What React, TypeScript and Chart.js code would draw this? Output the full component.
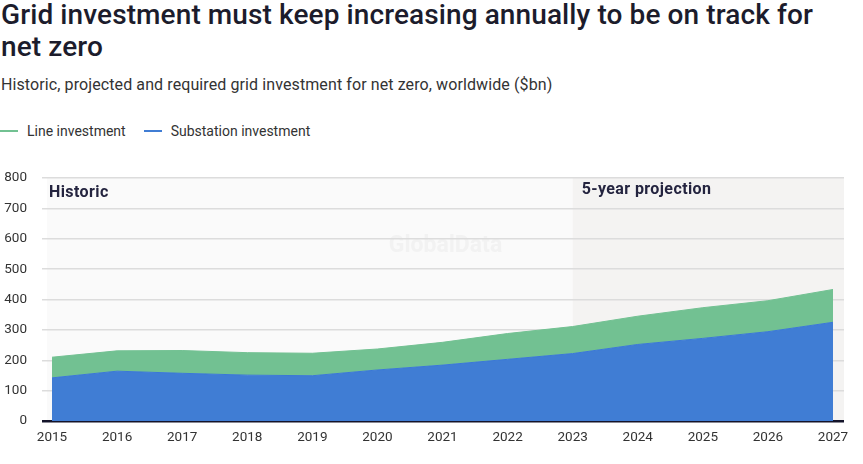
import React, { useEffect, useRef } from "react";
import { Chart, registerables } from "chart.js";

Chart.register(...registerables);

const years = [2015, 2016, 2017, 2018, 2019, 2020, 2021, 2022, 2023, 2024, 2025, 2026, 2027];
const substationInvestment = [142, 164, 157, 151, 149, 168, 184, 203, 222, 252, 272, 294, 325];
const lineInvestment = [68, 67, 75, 74, 74, 69, 75, 85, 89, 93, 101, 102, 108];
const yTicks = [0, 100, 200, 300, 400, 500, 600, 700, 800];
const projectionStart = 2023;

const FONT = "Roboto, 'Noto Sans', sans-serif";

const bgPlugin = {
  id: "bgRegions",
  beforeDraw(chart: any) {
    const { ctx, chartArea, scales } = chart;
    const x = scales.x;
    const split = x.getPixelForValue(projectionStart);
    ctx.save();
    ctx.fillStyle = "#fafafa";
    ctx.fillRect(chartArea.left, chartArea.top, split - chartArea.left, chartArea.bottom - chartArea.top);
    ctx.fillStyle = "#f4f3f2";
    ctx.fillRect(split, chartArea.top, chartArea.right - split, chartArea.bottom - chartArea.top);
    ctx.font = `bold 23px ${FONT}`;
    ctx.fillStyle = "#f2f2f2";
    ctx.textAlign = "center";
    ctx.textBaseline = "middle";
    ctx.fillText("GlobalData", (chartArea.left + chartArea.right) / 2, chartArea.top + 68);
    ctx.restore();
  },
  afterDraw(chart: any) {
    const { ctx, chartArea, scales } = chart;
    const split = scales.x.getPixelForValue(projectionStart);
    ctx.save();
    ctx.font = `bold 16px ${FONT}`;
    ctx.fillStyle = "#24243f";
    ctx.textAlign = "left";
    ctx.textBaseline = "middle";
    (ctx as any).letterSpacing = "0.4px";
    ctx.fillText("Historic", chartArea.left + 2, chartArea.top + 15);
    ctx.fillText("5-year projection", split + 9, chartArea.top + 12);
    ctx.restore();
  },
};

export default function App() {
  const ref = useRef<HTMLCanvasElement | null>(null);

  useEffect(() => {
    document.body.style.margin = "0";
    if (!ref.current) return;
    const chart = new Chart(ref.current, {
      type: "line",
      data: {
        datasets: [
          {
            label: "Substation investment",
            data: years.map((y, i) => ({ x: y, y: substationInvestment[i] })),
            backgroundColor: "#407dd4",
            borderColor: "#3a78d6",
            borderWidth: 1,
            fill: "origin",
            pointRadius: 0,
            tension: 0,
          },
          {
            label: "Line investment",
            data: years.map((y, i) => ({ x: y, y: lineInvestment[i] })),
            backgroundColor: "#72c192",
            borderColor: "#72c192",
            borderWidth: 1,
            fill: "-1",
            pointRadius: 0,
            tension: 0,
          },
        ],
      },
      options: {
        animation: false,
        responsive: true,
        maintainAspectRatio: false,
        layout: { padding: { top: 28, right: 19, left: 0, bottom: 0 } },
        plugins: {
          legend: { display: false },
          tooltip: { enabled: false },
        },
        scales: {
          x: {
            type: "linear",
            min: 2014.923,
            max: 2027.169,
            grid: { display: false, drawTicks: false },
            border: { display: false },
            afterBuildTicks: (scale: any) => {
              scale.ticks = years.map((v) => ({ value: v }));
            },
            afterFit: (scale: any) => {
              scale.height = 43;
            },
            ticks: {
              includeBounds: false,
              stepSize: 1,
              padding: 9,
              color: "#333",
              font: { family: FONT, size: 13.5 },
              maxRotation: 0,
              autoSkip: false,
              callback: (v: any) => String(v),
            },
          },
          y: {
            stacked: true,
            min: 0,
            max: 800,
            afterBuildTicks: (scale: any) => {
              scale.ticks = yTicks.map((v) => ({ value: v }));
            },
            afterFit: (scale: any) => {
              scale.width = 47;
            },
            border: { display: false },
            grid: {
              color: (c: any) => (c.tick && c.tick.value === 0 ? "#14142a" : "#dcdcdc"),
              lineWidth: (c: any) => (c.tick && c.tick.value === 0 ? 2.5 : 1.5),
              tickLength: 5,
              drawTicks: true,
            },
            ticks: {
              padding: 15,
              color: "#333",
              font: { family: FONT, size: 13.5 },
            },
          },
        },
      },
      plugins: [bgPlugin],
    });
    return () => chart.destroy();
  }, []);

  return (
    <div style={{ position: "relative", width: 863, height: 464, fontFamily: FONT, background: "#fff", overflow: "hidden" }}>
      <div
        style={{
          position: "absolute",
          left: 1,
          top: -1,
          width: 860,
          fontSize: 28,
          fontWeight: 500,
          lineHeight: "32px",
          color: "#1c1c2c",
          letterSpacing: "0.1px",
        }}
      >
        <div>Grid investment must keep increasing annually to be on track for</div>
        <div>net zero</div>
      </div>
      <div style={{ position: "absolute", left: 1, top: 75, fontSize: 16, color: "#333", fontWeight: 400, letterSpacing: "0.1px" }}>
        Historic, projected and required grid investment for net zero, worldwide ($bn)
      </div>
      <div style={{ position: "absolute", left: 0, top: 123, fontSize: 14, color: "#333", display: "flex", alignItems: "center" }}>
        <span style={{ display: "inline-block", width: 18, height: 2, background: "#72c192", marginRight: 9 }} />
        <span style={{ marginRight: 18 }}>Line investment</span>
        <span style={{ display: "inline-block", width: 18, height: 2, background: "#407dd4", marginRight: 9 }} />
        <span>Substation investment</span>
      </div>
      <div style={{ position: "absolute", left: 0, top: 150, width: 863, height: 314 }}>
        <canvas ref={ref} />
      </div>
    </div>
  );
}
